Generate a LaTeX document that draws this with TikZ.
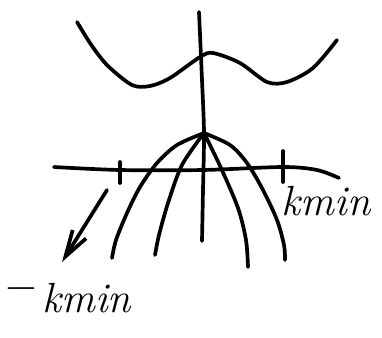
\documentclass[tikz,border=0pt]{standalone}
\usetikzlibrary{arrows.meta}
\begin{document}
\begin{tikzpicture}[x=0.02cm,y=-0.02cm,
  trait/.style={line width=2.1pt,line cap=round,line join=round},
  fleche/.style={trait,-{Straight Barb[length=15pt,width=9pt]}},
  etiquette/.style={font=\fontsize{24}{24}\selectfont\itshape,inner sep=0pt}]

\useasboundingbox (0,0) rectangle (382,338);

% Courbe du haut
\draw[trait] plot[smooth] coordinates {(77,22) (92,46) (108,66) (132,85) (150,86)
  (170,78) (200,57) (213,53) (240,63) (267,82) (287,82) (313,68) (337,40)};

% Axes
\draw[trait] plot[smooth] coordinates {(199,12) (202,80) (204,133) (203,190) (202,241)};
\draw[trait] plot[smooth] coordinates {(54,167) (120,170) (203,170) (283,167) (317,170) (339,178)};

% Graduations
\draw[trait] (120,162) -- (120,183);
\draw[trait] (283,151) -- (283,182);

% Sommet
\coordinate (sommet) at (204,133);

% Paraboles
\draw[trait] plot[smooth] coordinates {(sommet) (177,145) (157,163) (140,187) (127,213) (116,240) (112,258)};
\draw[trait] plot[smooth] coordinates {(sommet) (182,165) (168,203) (159,235) (155,255)};
\draw[trait] plot[smooth] coordinates {(sommet) (221,168) (238,208) (246,240) (248,267)};
\draw[trait] plot[smooth] coordinates {(sommet) (230,145) (247,163) (263,190) (277,220) (284,245) (285,260)};

% Etiquettes
\node[etiquette] (kmin) at (326,201) {kmin};
\node[etiquette,anchor=base west] (moinskmin) at (4,312) {\raisebox{7pt}{$-$}\hspace{0.1em}kmin};

% Fleche
\coordinate (depart) at (107,190);
\coordinate (pointe) at (62,262);
\draw[fleche] (depart) -- (pointe);

\end{tikzpicture}
\end{document}
